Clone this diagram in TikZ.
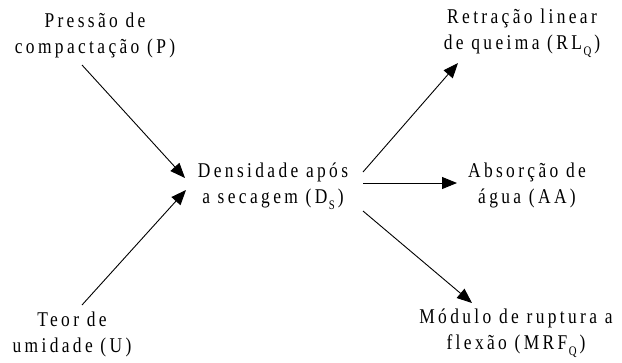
\documentclass[tikz,border=0pt]{standalone}
\usepackage{fontspec}
\setmainfont{Liberation Serif}[FakeStretch=0.83,LetterSpace=16]
\usetikzlibrary{arrows.meta,calc}
\newcommand{\lowsub}[1]{\kern1.5pt\raisebox{-0.3em}{\fontsize{13}{13}\selectfont #1}\kern3pt}
\begin{document}
\begin{tikzpicture}[x=1pt,y=-1pt,
  lbl/.style={align=center,inner sep=0pt,font=\fontsize{21}{26}\selectfont},
  arr/.style={-{Triangle[length=15pt,width=12pt]},line width=0.9pt}]
\useasboundingbox (0,0) rectangle (622,362);
\node[lbl] (P) at (95,35) {Pressão de\\compactação (P)};
\node[lbl] (U) at (72,334) {Teor de\\umidade (U)};
\node[lbl] (D) at (273,186) {Densidade após\\a secagem (D\lowsub{S})};
\node[lbl] (RL) at (522,33) {Retração linear\\de queima (RL\lowsub{Q})};
\node[lbl] (AA) at (527,185) {Absorção de\\água (AA)};
\node[lbl] (MRF) at (516,333) {Módulo de ruptura a\\flexão (MRF\lowsub{Q})};
\draw[arr] ($(P)+(-13,30)$) -- ($(D)+(-88,-8)$);
\draw[arr] ($(U)+(10,-29)$) -- ($(D)+(-87,4)$);
\draw[arr] ($(D)+(90,-14)$) -- ($(RL)+(-64,30)$);
\draw[arr] ($(D)+(90,-3)$) -- ($(AA)+(-70,-2)$);
\draw[arr] ($(D)+(90,25)$) -- ($(MRF)+(-44,-30)$);
\end{tikzpicture}
\end{document}
